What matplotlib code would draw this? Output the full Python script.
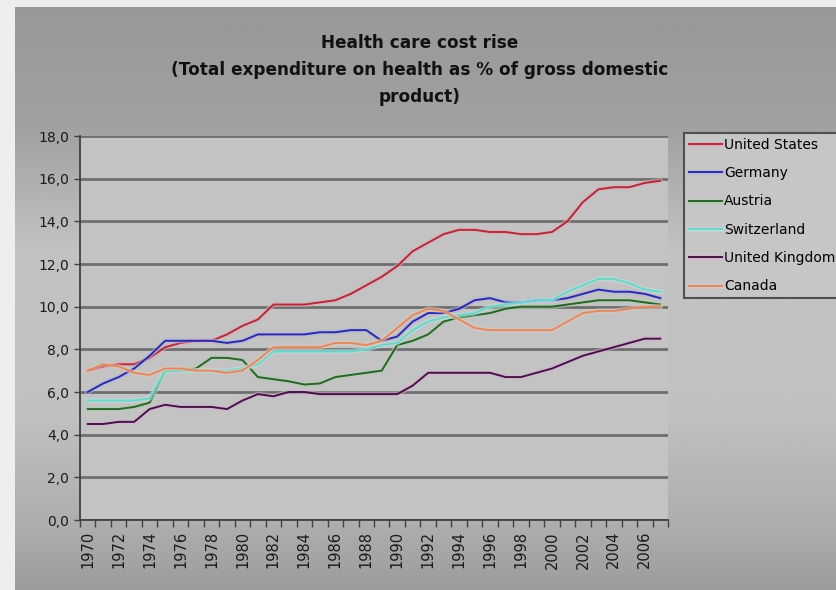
import numpy as np
import matplotlib.pyplot as plt
import matplotlib.patheffects as pe

plt.rcParams['font.family'] = ['DejaVu Sans']

years = list(range(1970, 2008))

united_states = [7.0, 7.2, 7.3, 7.3, 7.6, 8.1, 8.3, 8.4, 8.4, 8.7, 9.1, 9.4, 10.1, 10.1,
                 10.1, 10.2, 10.3, 10.6, 11.0, 11.4, 11.9, 12.6, 13.0, 13.4, 13.6, 13.6,
                 13.5, 13.5, 13.4, 13.4, 13.5, 14.0, 14.9, 15.5, 15.6, 15.6, 15.8, 15.9]
germany = [6.0, 6.4, 6.7, 7.1, 7.7, 8.4, 8.4, 8.4, 8.4, 8.3, 8.4, 8.7, 8.7, 8.7,
           8.7, 8.8, 8.8, 8.9, 8.9, 8.4, 8.6, 9.3, 9.7, 9.7, 9.9, 10.3,
           10.4, 10.2, 10.2, 10.3, 10.3, 10.4, 10.6, 10.8, 10.7, 10.7, 10.6, 10.4]
austria = [5.2, 5.2, 5.2, 5.3, 5.5, 7.0, 7.0, 7.1, 7.6, 7.6, 7.5, 6.7, 6.6, 6.5,
           6.35, 6.4, 6.7, 6.8, 6.9, 7.0, 8.2, 8.4, 8.7, 9.3, 9.5, 9.6,
           9.7, 9.9, 10.0, 10.0, 10.0, 10.1, 10.2, 10.3, 10.3, 10.3, 10.2, 10.1]
switzerland = [5.6, 5.6, 5.6, 5.6, 5.7, 7.0, 7.0, 7.0, 7.0, 7.0, 7.1, 7.3, 7.9, 7.9,
               7.9, 7.9, 7.9, 7.9, 8.0, 8.2, 8.3, 8.9, 9.3, 9.5, 9.6, 9.7,
               10.0, 10.1, 10.2, 10.3, 10.3, 10.7, 11.0, 11.3, 11.3, 11.1, 10.8, 10.7]
united_kingdom = [4.5, 4.5, 4.6, 4.6, 5.2, 5.4, 5.3, 5.3, 5.3, 5.2, 5.6, 5.9, 5.8, 6.0,
                  6.0, 5.9, 5.9, 5.9, 5.9, 5.9, 5.9, 6.3, 6.9, 6.9, 6.9, 6.9,
                  6.9, 6.7, 6.7, 6.9, 7.1, 7.4, 7.7, 7.9, 8.1, 8.3, 8.5, 8.5]
canada = [7.0, 7.3, 7.2, 6.9, 6.8, 7.1, 7.1, 7.0, 7.0, 6.9, 7.0, 7.5, 8.1, 8.1,
          8.1, 8.1, 8.3, 8.3, 8.2, 8.4, 9.0, 9.6, 9.9, 9.8, 9.4, 9.0,
          8.9, 8.9, 8.9, 8.9, 8.9, 9.3, 9.7, 9.8, 9.8, 9.9, 10.0, 10.0]

series = [
    ("United States", united_states, "#a8303e", "#eea4b2"),
    ("Germany", germany, "#2c2c9c", "#b0b0ee"),
    ("Austria", austria, "#2e602e", "#a8d4a8"),
    ("Switzerland", switzerland, "#72d2ca", "#b0e8e2"),
    ("United Kingdom", united_kingdom, "#421640", "#dcaadc"),
    ("Canada", canada, "#d98c68", "#eec4b0"),
]

W, H = 836, 590
fig = plt.figure(figsize=(W / 100, H / 100), dpi=100, facecolor="#eeeeee")

# chart area gradient background
bg = fig.add_axes([15 / W, 0, 821 / W, 583 / H], zorder=-10)
rows = np.linspace(0, 1, 300)
shade = np.interp(rows, [0, 0.2, 0.42, 0.7, 0.9, 1.0], [152, 160, 194, 192, 172, 156]) / 255
bg.imshow(np.repeat(shade[:, None], 2, axis=1), cmap="gray", vmin=0, vmax=1,
          aspect="auto", extent=[0, 1, 0, 1], interpolation="bilinear")
bg.axis("off")

ax = fig.add_axes([80 / W, 1 - 520 / H, 588 / W, 384 / H])
ax.set_facecolor("#c3c3c3")

for name, vals, core, halo in series:
    ax.plot(years, vals, color=core, lw=1.4, label=name, solid_joinstyle="round",
            path_effects=[pe.Stroke(linewidth=3.6, foreground=halo, alpha=0.55), pe.Normal()])

ax.set_xlim(1969.5, 2007.5)
ax.set_ylim(0, 18)
yt = np.arange(0, 19, 2)
ax.set_yticks(yt)
ax.set_yticklabels([f"{v:.1f}".replace(".", ",") for v in yt], fontsize=10, color="#1a1a1a")
ax.yaxis.grid(True, color="#6e6e6e", lw=2)
ax.set_axisbelow(True)

ax.set_xticks(years[::2])
ax.set_xticklabels([str(y) for y in years[::2]], rotation=90, fontsize=10.5, color="#1a1a1a")
ax.set_xticks(np.arange(1969.5, 2008, 1), minor=True)
ax.tick_params(axis="x", which="major", length=0, pad=8)
ax.tick_params(axis="x", which="minor", length=5, width=1, color="#404040", direction="out")
ax.tick_params(axis="y", length=4, width=1, color="#404040", direction="out", pad=4)

for s in ["top", "right"]:
    ax.spines[s].set_visible(False)
for s in ["left", "bottom"]:
    ax.spines[s].set_color("#404040")
    ax.spines[s].set_linewidth(1.3)

# title, three lines as in the original
title_lines = ["Health care cost rise",
               "(Total expenditure on health as % of gross domestic",
               "product)"]
for i, line in enumerate(title_lines):
    fig.text(420 / W, 1 - (43 + 27 * i) / H, line, ha="center", va="center",
             fontsize=12.2, fontweight="bold", color="#111111")

leg = fig.legend(loc="upper left", bbox_to_anchor=(684 / W, 1 - 133 / H), fontsize=10,
                 frameon=True, fancybox=False, framealpha=1, facecolor="#c6c6c6",
                 edgecolor="#505050", borderpad=0.35, labelspacing=1.03,
                 handlelength=2.4, handletextpad=0.15, borderaxespad=0)
leg.get_frame().set_linewidth(1.5)

fig.savefig("out.png", dpi=100, facecolor=fig.get_facecolor())
